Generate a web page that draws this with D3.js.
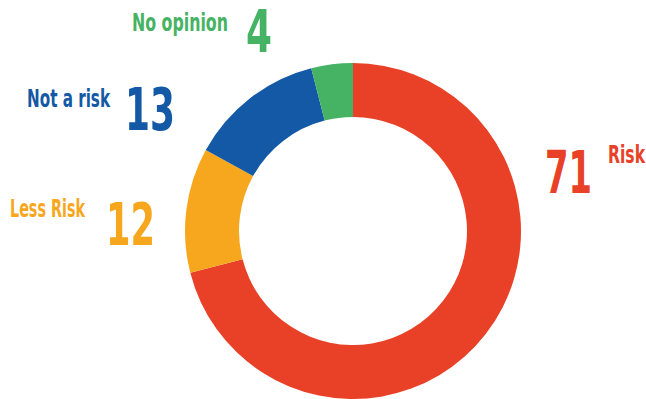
<!DOCTYPE html>
<html>
<head>
<meta charset="utf-8">
<script src="https://cdn.jsdelivr.net/npm/d3@7"></script>
<style>
  body { margin: 0; background: #fff; }
  text { font-family: "DejaVu Sans Condensed", "DejaVu Sans", sans-serif; font-weight: bold; font-stretch: condensed; }
</style>
</head>
<body>
<div id="chart"></div>
<script>
var categories = ["Risk", "Less Risk", "Not a risk", "No opinion"];
var values = [71, 12, 13, 4];
var colors = ["#E94127", "#F7A71E", "#1359A5", "#45B363"];

var width = 646, height = 399;
var cx = 353, cy = 231, outerR = 168, innerR = 114;

var svg = d3.select("#chart").append("svg")
    .attr("width", width)
    .attr("height", height);

var pie = d3.pie().sort(null).value(function(d){ return d; });
var arc = d3.arc().innerRadius(innerR).outerRadius(outerR);

var g = svg.append("g").attr("transform", "translate(" + cx + "," + cy + ")");

g.selectAll("path").data(pie(values)).enter().append("path")
    .attr("d", arc)
    .attr("fill", function(d, i){ return colors[i]; });

// label x/baseline/width, number x/baseline/width
var labelPos = [
    { lx: 608, ly: 163, lw: 37, nx: 545, ny: 193, nw: 47 },
    { lx: 10, ly: 217, lw: 75, nx: 106, ny: 245, nw: 49 },
    { lx: 27, ly: 107, lw: 83, nx: 125, ny: 130, nw: 50 },
    { lx: 132, ly: 31, lw: 96, nx: 246, ny: 52, nw: 26 }
];

var labels = svg.selectAll("g.lbl").data(categories).enter().append("g").attr("class", "lbl");

labels.append("text")
    .attr("x", function(d, i){ return labelPos[i].lx; })
    .attr("y", function(d, i){ return labelPos[i].ly; })
    .attr("font-size", 24)
    .attr("textLength", function(d, i){ return labelPos[i].lw; })
    .attr("lengthAdjust", "spacingAndGlyphs")
    .attr("fill", function(d, i){ return colors[i]; })
    .text(function(d){ return d; });

labels.append("text")
    .attr("x", function(d, i){ return labelPos[i].nx; })
    .attr("y", function(d, i){ return labelPos[i].ny; })
    .attr("font-size", 59)
    .attr("textLength", function(d, i){ return labelPos[i].nw; })
    .attr("lengthAdjust", "spacingAndGlyphs")
    .attr("fill", function(d, i){ return colors[i]; })
    .text(function(d, i){ return values[i]; });
</script>
</body>
</html>
